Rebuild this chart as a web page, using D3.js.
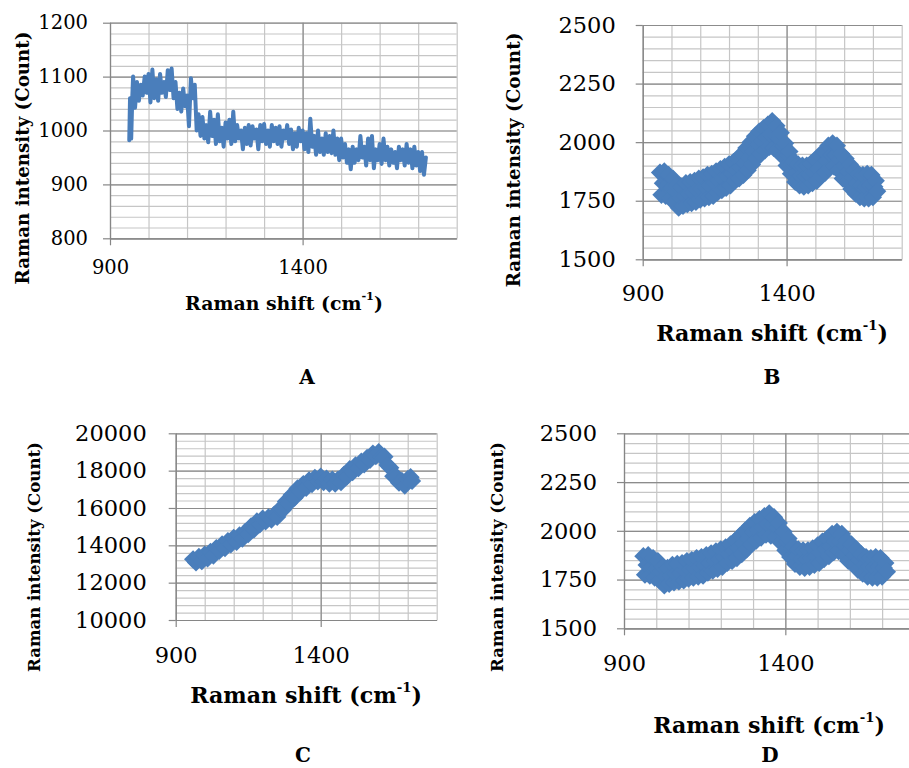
<!DOCTYPE html>
<html lang="en">
<head>
<meta charset="utf-8">
<title>Raman spectra A-D</title>
<script src="https://d3js.org/d3.v7.min.js"></script>
<style>
  body { margin: 0; background: #fff; }
  svg { display: block; font-family: "DejaVu Serif", "Liberation Serif", serif; }
  .grid .domain { display: none; }
  .grid.minor line { stroke: #c6c6c6; stroke-width: 1.2; }
  .grid.major line { stroke: #8c8c8c; stroke-width: 1.2; }
  .axis .domain, .axis line { stroke: #868686; stroke-width: 1.2; }
  .axis text { fill: #000; }
  .title { font-weight: bold; fill: #000; }
</style>
</head>
<body>
<svg id="chart" width="909" height="768"></svg>
<script>
// ---- data: [Raman shift (cm-1), intensity (count)] ----

// A: raw spectrum, drawn as a line
var specA = [
  [950, 982], [952, 1060], [955, 985], [958, 1065], [960, 1100], [965, 1042], [970, 1090], [975, 1055],
  [980, 1085], [985, 1065], [990, 1100], [995, 1070], [1000, 1105], [1005, 1052], [1010, 1113], [1015, 1060],
  [1020, 1095], [1025, 1055], [1030, 1105], [1035, 1070], [1040, 1090], [1045, 1062], [1050, 1112], [1055, 1075],
  [1060, 1115], [1065, 1060], [1070, 1090], [1075, 1040], [1080, 1070], [1085, 1035], [1090, 1078], [1095, 1045],
  [1100, 1065], [1105, 1008], [1110, 1097], [1115, 1060], [1120, 1085], [1125, 1000], [1130, 1030], [1135, 990],
  [1140, 1025], [1145, 985], [1150, 1010], [1155, 978], [1160, 1035], [1165, 990], [1170, 1020], [1175, 975],
  [1180, 1030], [1185, 980], [1190, 1005], [1195, 970], [1200, 1015], [1205, 985], [1210, 1020], [1215, 975],
  [1220, 1035], [1225, 980], [1230, 1010], [1235, 985], [1240, 1000], [1245, 965], [1250, 1005], [1255, 975],
  [1260, 1010], [1265, 972], [1270, 1008], [1275, 985], [1280, 1002], [1285, 965], [1290, 1010], [1295, 980],
  [1300, 1012], [1305, 975], [1310, 1000], [1315, 970], [1320, 1010], [1325, 980], [1330, 1005], [1335, 975],
  [1340, 1008], [1345, 970], [1350, 1000], [1355, 985], [1360, 1010], [1365, 975], [1370, 1002], [1375, 965],
  [1380, 995], [1385, 970], [1390, 1005], [1395, 980], [1400, 1000], [1405, 965], [1410, 995], [1415, 960],
  [1420, 1022], [1425, 970], [1430, 990], [1435, 955], [1440, 1000], [1445, 960], [1450, 985], [1455, 955],
  [1460, 995], [1465, 960], [1470, 990], [1475, 958], [1480, 1000], [1485, 955], [1490, 985], [1495, 945],
  [1500, 985], [1505, 950], [1510, 975], [1515, 940], [1520, 965], [1525, 928], [1530, 970], [1535, 940],
  [1540, 965], [1545, 945], [1550, 990], [1555, 950], [1560, 970], [1565, 935], [1570, 985], [1575, 945],
  [1580, 990], [1585, 930], [1590, 965], [1595, 945], [1600, 975], [1605, 938], [1610, 985], [1615, 945],
  [1620, 970], [1625, 935], [1630, 965], [1635, 940], [1640, 960], [1645, 930], [1650, 970], [1655, 945],
  [1660, 965], [1665, 935], [1670, 975], [1675, 940], [1680, 965], [1685, 930], [1690, 970], [1695, 935],
  [1700, 960], [1705, 925], [1710, 960], [1715, 918], [1720, 950]
];

// B and D: the same spectrum, drawn as diamond markers
var specB = [
  [960, 1870], [965, 1775], [970, 1825], [975, 1875], [980, 1770], [985, 1815], [990, 1860], [995, 1760],
  [1000, 1805], [1005, 1845], [1010, 1745], [1015, 1790], [1020, 1815], [1025, 1720], [1030, 1765], [1035, 1810],
  [1040, 1728], [1045, 1770], [1050, 1825], [1055, 1735], [1060, 1780], [1065, 1830], [1070, 1740], [1075, 1785],
  [1080, 1835], [1085, 1745], [1090, 1795], [1095, 1845], [1100, 1755], [1105, 1800], [1110, 1850], [1115, 1760],
  [1120, 1805], [1125, 1860], [1130, 1765], [1135, 1815], [1140, 1865], [1145, 1770], [1150, 1825], [1155, 1875],
  [1160, 1785], [1165, 1835], [1170, 1885], [1175, 1795], [1180, 1845], [1185, 1895], [1190, 1805], [1195, 1855],
  [1200, 1905], [1205, 1815], [1210, 1865], [1215, 1915], [1220, 1835], [1225, 1880], [1230, 1930], [1235, 1845],
  [1240, 1895], [1245, 1950], [1250, 1860], [1255, 1910], [1260, 1975], [1265, 1880], [1270, 1935], [1275, 2000],
  [1280, 1905], [1285, 1960], [1290, 2025], [1295, 1930], [1300, 1990], [1305, 2045], [1310, 1950], [1315, 2005],
  [1320, 2060], [1325, 1965], [1330, 2020], [1335, 2075], [1340, 1980], [1345, 2035], [1350, 2090], [1355, 1975],
  [1360, 2030], [1365, 2070], [1370, 1970], [1375, 2015], [1380, 2040], [1385, 1940], [1390, 1985], [1395, 1995],
  [1400, 1900], [1405, 1945], [1410, 1960], [1415, 1865], [1420, 1910], [1425, 1920], [1430, 1830], [1435, 1870],
  [1440, 1905], [1445, 1815], [1450, 1855], [1455, 1900], [1460, 1810], [1465, 1855], [1470, 1900], [1475, 1815],
  [1480, 1860], [1485, 1910], [1490, 1825], [1495, 1870], [1500, 1925], [1505, 1835], [1510, 1885], [1515, 1945],
  [1520, 1855], [1525, 1905], [1530, 1960], [1535, 1870], [1540, 1920], [1545, 1985], [1550, 1890], [1555, 1945],
  [1560, 1995], [1565, 1895], [1570, 1945], [1575, 1985], [1580, 1880], [1585, 1925], [1590, 1950], [1595, 1845],
  [1600, 1900], [1605, 1930], [1610, 1830], [1615, 1875], [1620, 1905], [1625, 1800], [1630, 1850], [1635, 1880],
  [1640, 1780], [1645, 1825], [1650, 1865], [1655, 1765], [1660, 1815], [1665, 1860], [1670, 1760], [1675, 1810],
  [1680, 1865], [1685, 1760], [1690, 1815], [1695, 1860], [1700, 1765], [1705, 1810], [1710, 1835], [1715, 1790]
];

// C: diamond markers
var specC = [
  [960, 13250], [970, 13080], [980, 13380], [990, 13150], [1000, 13500], [1010, 13300], [1020, 13650], [1030, 13450],
  [1040, 13850], [1050, 13700], [1060, 14050], [1070, 13850], [1080, 14230], [1090, 14050], [1100, 14400], [1110, 14180],
  [1120, 14530], [1130, 14350], [1140, 14720], [1150, 14600], [1160, 15020], [1170, 14850], [1180, 15280], [1190, 15120],
  [1200, 15430], [1210, 15280], [1220, 15500], [1230, 15380], [1240, 15650], [1250, 15520], [1260, 15950], [1270, 15900],
  [1280, 16350], [1290, 16250], [1300, 16700], [1310, 16550], [1320, 17050], [1330, 16880], [1340, 17280], [1350, 17080],
  [1360, 17480], [1370, 17280], [1380, 17620], [1390, 17420], [1400, 17680], [1410, 17380], [1420, 17580], [1430, 17300],
  [1440, 17520], [1450, 17300], [1460, 17520], [1470, 17380], [1480, 17780], [1490, 17680], [1500, 18080], [1510, 17920],
  [1520, 18280], [1530, 18130], [1540, 18480], [1550, 18330], [1560, 18680], [1570, 18570], [1580, 18920], [1590, 18780],
  [1600, 19000], [1610, 18750], [1620, 18750], [1630, 18300], [1640, 18150], [1650, 17700], [1660, 17700], [1670, 17350],
  [1680, 17450], [1690, 17200], [1700, 17550], [1710, 17650], [1715, 17450]
];

var xTicks = [900, 1400];
var yTicksA = [800, 900, 1000, 1100, 1200];
var yTicksB = [1500, 1750, 2000, 2250, 2500];
var yTicksC = [10000, 12000, 14000, 16000, 18000, 20000];
var yTitle = "Raman intensity (Count)";

var blue = "#4a7ebb";
var svg = d3.select("#chart");

var panels = [
  { name: "A", data: specA, kind: "line", box: [110, 22.7, 456.7, 238.3], yTicks: yTicksA, yMinor: 20,
    tickFont: 19.5, yPad: 15, xPad: 15, yLab: [22, 158, 253], xLab: [284, 303, 198], letter: [307, 377] },
  { name: "B", data: specB, kind: "dots", box: [642.7, 25, 901.7, 259.3], yTicks: yTicksB, yMinor: 50,
    tickFont: 22.5, yPad: 20, xPad: 19, yLab: [513, 160, 255], xLab: [772, 333, 232], letter: [772, 377] },
  { name: "C", data: specC, kind: "dots", box: [175.7, 433.3, 436.7, 620], yTicks: yTicksC, yMinor: 400,
    tickFont: 22.5, yPad: 22, xPad: 20, yLab: [34, 557, 230], xLab: [306, 695, 232], letter: [303, 755] },
  { name: "D", data: specB, kind: "dots", box: [624, 433.3, 914.4, 628.3], yTicks: yTicksB, yMinor: 50,
    tickFont: 22.5, yPad: 20, xPad: 20, yLab: [497, 557, 230], xLab: [769, 725, 232], letter: [770, 755] }
];

// scale the font so the text spans the given length
function fitText(text, len) {
  var base = parseFloat(text.attr("font-size"));
  var w = text.node().getComputedTextLength();
  text.attr("font-size", base * len / w);
}

panels.forEach(function(p) {
  var left = p.box[0], top = p.box[1], right = p.box[2], bottom = p.box[3];
  var width = right - left, height = bottom - top;
  var y0 = p.yTicks[0], y1 = p.yTicks[p.yTicks.length - 1];

  var x = d3.scaleLinear().domain([900, 1800]).range([0, width]);
  var y = d3.scaleLinear().domain([y0, y1]).range([height, 0]);

  var g = svg.append("g").attr("transform", "translate(" + left + "," + top + ")");

  // gridlines: minor first, major on top
  g.append("g").attr("class", "grid minor")
    .call(d3.axisLeft(y).tickValues(d3.range(y0, y1 + 1e-6, p.yMinor)).tickSize(-width).tickFormat(""));
  g.append("g").attr("class", "grid minor")
    .attr("transform", "translate(0," + height + ")")
    .call(d3.axisBottom(x).tickValues(d3.range(1000, 1801, 100)).tickSize(-height).tickFormat(""));
  g.append("g").attr("class", "grid major")
    .call(d3.axisLeft(y).tickValues(p.yTicks).tickSize(-width).tickFormat(""));
  g.append("g").attr("class", "grid major")
    .attr("transform", "translate(0," + height + ")")
    .call(d3.axisBottom(x).tickValues(xTicks).tickSize(-height).tickFormat(""));

  // axes
  var ya = g.append("g").attr("class", "axis")
    .call(d3.axisLeft(y).tickValues(p.yTicks).tickSize(7).tickSizeOuter(0).tickPadding(p.yPad).tickFormat(d3.format("d")));
  var xa = g.append("g").attr("class", "axis")
    .attr("transform", "translate(0," + height + ")")
    .call(d3.axisBottom(x).tickValues(xTicks).tickSize(7).tickSizeOuter(0).tickPadding(p.xPad).tickFormat(d3.format("d")));
  ya.selectAll("text").attr("font-size", p.tickFont);
  xa.selectAll("text").attr("font-size", p.tickFont);
  ya.attr("font-family", null).attr("font-size", null);
  xa.attr("font-family", null).attr("font-size", null);

  // series
  if (p.kind === "line") {
    var line = d3.line().x(function(d) { return x(d[0]); }).y(function(d) { return y(d[1]); });
    g.append("path")
      .datum(p.data)
      .attr("d", line)
      .attr("fill", "none")
      .attr("stroke", blue)
      .attr("stroke-width", 4)
      .attr("stroke-linejoin", "round")
      .attr("stroke-linecap", "round");
  } else {
    var diamond = d3.symbol().type(d3.symbolSquare).size(165);
    g.selectAll("path.pt")
      .data(p.data)
      .enter().append("path")
      .attr("class", "pt")
      .attr("d", diamond)
      .attr("transform", function(d) { return "translate(" + x(d[0]) + "," + y(d[1]) + ") rotate(45)"; })
      .attr("fill", blue);
  }

  // y title
  var yt = svg.append("text").attr("class", "title")
    .attr("transform", "translate(" + p.yLab[0] + "," + p.yLab[1] + ") rotate(-90)")
    .attr("text-anchor", "middle")
    .attr("dominant-baseline", "central")
    .attr("font-size", 18)
    .text(yTitle);
  fitText(yt, p.yLab[2]);

  // x title with superscript
  var xt = svg.append("text").attr("class", "title")
    .attr("x", p.xLab[0]).attr("y", p.xLab[1])
    .attr("text-anchor", "middle")
    .attr("dominant-baseline", "central")
    .attr("font-size", 20);
  xt.append("tspan").text("Raman shift (cm");
  xt.append("tspan").attr("font-size", "0.6em").attr("dy", "-0.6em").text("-1");
  xt.append("tspan").attr("dy", "0.36em").text(")");
  fitText(xt, p.xLab[2]);

  svg.append("text").attr("class", "title")
    .attr("x", p.letter[0]).attr("y", p.letter[1])
    .attr("text-anchor", "middle")
    .attr("dominant-baseline", "central")
    .attr("font-size", 20)
    .text(p.name);
});
</script>
</body>
</html>
